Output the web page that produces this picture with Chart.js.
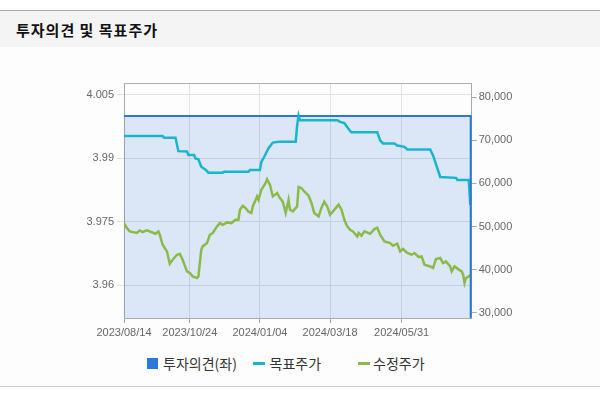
<!DOCTYPE html>
<html>
<head>
<meta charset="utf-8">
<script src="https://cdn.jsdelivr.net/npm/chart.js@4/dist/chart.umd.min.js"></script>
<style>
  body { margin: 0; background: #fff; font-family: "Noto Sans CJK KR", "Liberation Sans", sans-serif; }
  #topLine { position: absolute; left: 0; top: 10px; width: 600px; height: 1px; background: #aaa; }
  #head { position: absolute; left: 0; top: 11px; width: 600px; height: 36px; background: #f4f4f4; }
  #head span { position: absolute; left: 16px; top: 8px; font-size: 15px; font-weight: bold; letter-spacing: 1px; color: #111; }
  #body { position: absolute; left: 0; top: 47px; width: 600px; height: 339px; background: #fdfdfd; }
  #botLine { position: absolute; left: 0; top: 386px; width: 600px; height: 1px; background: #ccc; }
  #wrap { position: absolute; left: 0; top: 47px; width: 600px; height: 300px; }
  #legend { position: absolute; left: 147px; top: 351px; height: 20px; font-size: 14px; color: #333; }
  #legend div { position: absolute; top: 0; white-space: nowrap; }
  #legend i { display: inline-block; vertical-align: middle; margin-right: 5px; }
</style>
</head>
<body>
<div id="topLine"></div>
<div id="head"><span>투자의견 및 목표주가</span></div>
<div id="body"></div>
<div id="botLine"></div>
<div id="wrap"><canvas id="chart"></canvas></div>
<div id="legend"></div>
<script>
// x = trading-day index from 2023/08/14
const tickIdx = [0, 46, 95, 144, 194];
const tickDates = ["2023/08/14", "2023/10/24", "2024/01/04", "2024/03/18", "2024/05/31"];

const leftTicks = [4.005, 3.99, 3.975, 3.96];
const rightTicks = [30000, 40000, 50000, 60000, 70000, 80000];

// 투자의견 (좌)
const opinionIdx = [0, 243];
const opinionVals = [4, 4];

// 목표주가
const targetIdx = [0, 27, 28, 36, 38, 44, 45, 49, 50, 52, 54, 57, 59, 69, 70, 87, 88, 95, 96, 98,
  101, 104, 108, 120, 121, 122, 123, 149, 151, 154, 158, 159, 177, 179, 181, 189, 191, 196, 198, 214,
  216, 219, 221, 232, 233, 241, 242];
const targetVals = [71000, 71000, 70600, 70600, 67500, 67400, 66600, 66600, 65800, 65600,
  63900, 63200, 62500, 62500, 62700, 62700, 63100, 63100, 65000, 66200,
  68200, 69500, 69700, 69700, 73500, 75800, 74700, 74700, 74300, 74000,
  72200, 71900, 71900, 70000, 69300, 69300, 68800, 68500, 67900, 67900,
  66500, 63500, 61500, 61300, 60800, 60800, 55000];

// 수정주가
const priceIdx = [0, 2, 4, 9, 11, 13, 16, 19, 22, 24, 25, 27, 30, 32, 34, 37, 39, 41, 44, 46,
  48, 51, 52, 54, 55, 58, 60, 62, 65, 67, 69, 72, 75, 78, 80, 81, 83, 85, 87, 89,
  90, 93, 94, 96, 99, 100, 102, 104, 107, 109, 111, 113, 115, 116, 118, 121, 122, 124, 126, 129,
  131, 133, 136, 138, 140, 142, 144, 146, 149, 150, 152, 154, 156, 158, 160, 163, 164, 166, 168, 172,
  175, 177, 179, 182, 186, 188, 191, 193, 195, 198, 201, 203, 206, 208, 210, 214, 216, 218, 221, 223,
  225, 228, 229, 231, 234, 236, 237, 238, 239, 241, 242];
const priceVals = [50800, 49650, 48870, 48500, 49100, 48730, 49100, 48730, 48330, 48870,
  48100, 45780, 44220, 41370, 42300, 43460, 43690, 42300, 39580, 39210,
  38420, 38050, 38420, 44620, 45390, 46170, 48100, 48500, 50030, 50800,
  50420, 50960, 50800, 51580, 51580, 53900, 54830, 54300, 53440, 53140,
  54670, 56990, 56220, 58540, 60100, 60980, 59700, 56990, 57780, 56620,
  55760, 53140, 56220, 53900, 53510, 54670, 59170, 58940, 58150, 57150,
  55460, 53140, 52350, 54370, 55760, 54670, 52740, 53510, 54670, 55060,
  53900, 51580, 50030, 49260, 48870, 47710, 48500, 47870, 48870, 48330,
  49420, 49730, 48100, 46550, 46170, 45550, 46010, 44220, 44780, 43850,
  43460, 43850, 42920, 43060, 41140, 40740, 40370, 42460, 42690, 41530,
  41900, 40740, 39580, 40740, 40000, 39580, 38820, 36890, 38050, 38420,
  38820];

const colOpinion = "#2b78d8";
const colTarget = "#17b6cc";
const colPrice = "#8cba48";

const pairs = (xs, ys) => xs.map((x, i) => ({ x: x, y: ys[i] }));

// frame on top of plot + right edge of the opinion area
const frame = {
  id: "frame",
  beforeDatasetsDraw(chart) {
    const { ctx, chartArea: a } = chart;
    ctx.save();
    ctx.strokeStyle = "#b0b0b0";
    ctx.lineWidth = 1;
    ctx.beginPath();
    ctx.moveTo(a.left, a.top + 0.5);
    ctx.lineTo(a.right, a.top + 0.5);
    ctx.stroke();
    ctx.restore();
  },
  afterDatasetsDraw(chart) {
    const { ctx, chartArea: a } = chart;
    const pts = chart.getDatasetMeta(2).data;
    const p = pts[pts.length - 1];
    ctx.save();
    ctx.strokeStyle = colOpinion;
    ctx.lineWidth = 2;
    ctx.beginPath();
    ctx.moveTo(p.x - 1, p.y);
    ctx.lineTo(p.x - 1, a.bottom);
    ctx.stroke();
    ctx.restore();
  },
};

const tickFont = { family: "'Liberation Sans', Arial, sans-serif", size: 11 };

new Chart(document.getElementById("chart"), {
  type: "line",
  data: {
    datasets: [
      {
        label: "목표주가",
        data: pairs(targetIdx, targetVals),
        yAxisID: "y1",
        borderColor: colTarget,
        borderWidth: 2.5,
        pointRadius: 0,
        order: 1,
      },
      {
        label: "수정주가",
        data: pairs(priceIdx, priceVals),
        yAxisID: "y1",
        borderColor: colPrice,
        borderWidth: 2.5,
        pointRadius: 0,
        order: 2,
      },
      {
        label: "투자의견(좌)",
        data: pairs(opinionIdx, opinionVals),
        yAxisID: "y",
        borderColor: colOpinion,
        backgroundColor: "rgba(43,120,216,0.16)",
        borderWidth: 2,
        pointRadius: 0,
        fill: "start",
        order: 3,
      },
    ],
  },
  plugins: [frame],
  options: {
    responsive: true,
    maintainAspectRatio: false,
    animation: false,
    layout: { padding: { top: 36, left: 0, right: 0, bottom: 0 } },
    plugins: {
      legend: { display: false },
      tooltip: { enabled: false },
    },
    scales: {
      x: {
        type: "linear",
        min: 0,
        max: 243,
        afterBuildTicks: (s) => { s.ticks = tickIdx.map((v) => ({ value: v })); },
        afterFit: (s) => { s.height = 29; },
        ticks: {
          callback: (v) => tickDates[tickIdx.indexOf(v)],
          color: "#666",
          font: tickFont,
          padding: 3,
          maxRotation: 0,
          autoSkip: false,
        },
        grid: { color: "#e2e2e2", tickLength: 5, tickColor: "#aaa" },
        border: { color: "#aaa" },
      },
      y: {
        position: "left",
        min: 3.9522,
        max: 4.0078,
        afterBuildTicks: (s) => { s.ticks = leftTicks.map((v) => ({ value: v })); },
        afterFit: (s) => { s.width = 124; },
        ticks: {
          callback: (v) => String(+v.toFixed(3)),
          color: "#666",
          font: tickFont,
          padding: 3,
        },
        grid: { color: "#e2e2e2", tickLength: 7 },
        border: { color: "#aaa" },
      },
      y1: {
        position: "right",
        min: 28770,
        max: 83320,
        afterBuildTicks: (s) => { s.ticks = rightTicks.map((v) => ({ value: v })); },
        afterFit: (s) => { s.width = 128.3; },
        ticks: {
          callback: (v) => v.toLocaleString("en-US"),
          color: "#666",
          font: tickFont,
          padding: 2,
        },
        grid: { drawOnChartArea: false, tickLength: 5, color: "#aaa" },
        border: { color: "#aaa" },
      },
    },
  },
});

// legend in fixed columns
const legendItems = [
  { text: "투자의견(좌)", mark: '<i style="width:11px;height:11px;background:' + colOpinion + '"></i>' },
  { text: "목표주가", mark: '<i style="width:12px;height:3px;background:' + colTarget + '"></i>' },
  { text: "수정주가", mark: '<i style="width:12px;height:3px;background:' + colPrice + ';margin-right:3px"></i>' },
];
const legendEl = document.getElementById("legend");
legendItems.forEach((it, i) => {
  const d = document.createElement("div");
  d.style.left = (i * 105.5) + "px";
  d.innerHTML = it.mark + '<span style="vertical-align:middle">' + it.text + "</span>";
  legendEl.appendChild(d);
});
</script>
</body>
</html>
